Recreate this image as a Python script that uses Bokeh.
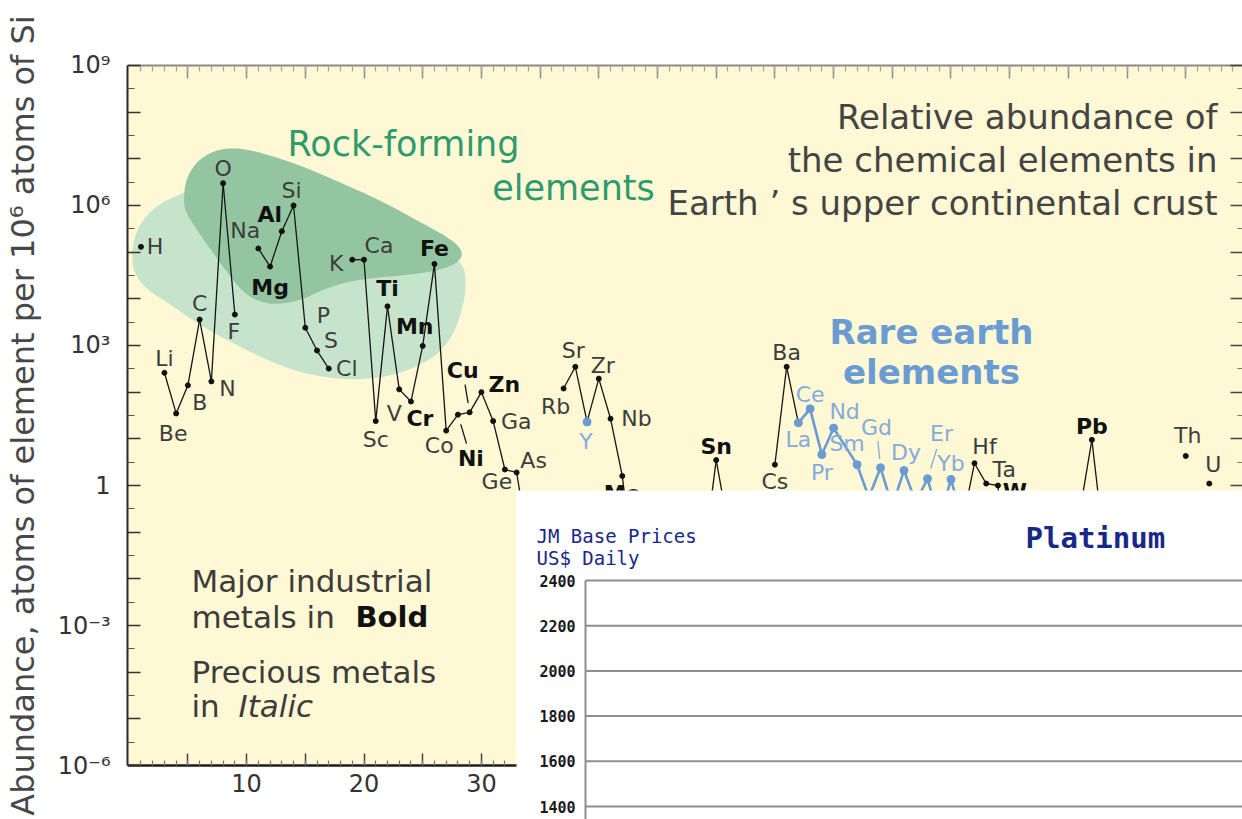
import math

from bokeh.plotting import figure
from bokeh.models import (ColumnDataSource, Range1d, LinearScale, LogAxis, LinearAxis,
                          FixedTicker, BoxAnnotation, Label)
from bokeh.core.properties import value
from bokeh.embed import file_html
from bokeh.resources import INLINE

# ---------------------------------------------------------------------------
# Element abundances in the upper continental crust (atoms per 10^6 atoms Si)
# ---------------------------------------------------------------------------
ELEMENTS = [
    "H",
    "Li", "Be", "B", "C", "N", "O", "F",
    "Na", "Mg", "Al", "Si", "P", "S", "Cl",
    "K", "Ca", "Sc", "Ti", "V", "Cr", "Mn", "Fe", "Co", "Ni", "Cu", "Zn", "Ga", "Ge", "As", "Se",
    "Rb", "Sr", "Y", "Zr", "Nb", "Mo", "Ru", "Rh", "Pd", "Ag", "Cd", "In", "Sn", "Sb", "Te",
    "Cs", "Ba", "La", "Ce", "Pr", "Nd", "Sm", "Eu", "Gd", "Tb", "Dy", "Ho", "Er", "Tm", "Yb", "Lu",
    "Hf", "Ta", "W", "Re", "Os", "Ir", "Pt", "Au", "Hg", "Tl", "Pb", "Bi",
    "Th", "U",
]
ATOMIC_NUMBER = [
    1,
    3, 4, 5, 6, 7, 8, 9,
    11, 12, 13, 14, 15, 16, 17,
    19, 20, 21, 22, 23, 24, 25, 26, 27, 28, 29, 30, 31, 32, 33, 34,
    37, 38, 39, 40, 41, 42, 44, 45, 46, 47, 48, 49, 50, 51, 52,
    55, 56, 57, 58, 59, 60, 62, 63, 64, 65, 66, 67, 68, 69, 70, 71,
    72, 73, 74, 75, 76, 77, 78, 79, 80, 81, 82, 83,
    90, 92,
]
ABUNDANCE = [
    1.3e5,
    260, 35, 140, 3600, 170, 3.0e6, 4600,
    1.2e5, 4.9e4, 2.8e5, 1.0e6, 2400, 780, 320,
    6.9e4, 6.9e4, 24, 6900, 115, 63, 980, 5.6e4, 15, 33, 37, 100, 24, 2.2, 1.9, 0.056,
    120, 350, 23, 195, 27, 1.6, 1.3e-4, 5e-5, 4e-4, 0.04, 0.08, 0.038, 3.5, 0.14, 5e-4,
    2.8, 350, 22, 44, 4.6, 17, 2.8, 0.56, 2.4, 0.36, 2.1, 0.44, 1.4, 0.18, 1.35, 0.17,
    3.0, 1.1, 1.0, 2e-4, 2.5e-5, 1e-5, 2.5e-4, 8e-4, 0.04, 0.3, 9.5, 0.063,
    4.3, 1.1,
]
# the connecting line breaks after these elements
CHAIN_ENDS = ["H", "F", "Cl", "Se", "Te", "Bi", "Th", "U"]

MAJOR_INDUSTRIAL = ["Mg", "Al", "Ti", "Cr", "Mn", "Fe", "Ni", "Cu", "Zn", "Mo", "Sn", "W", "Pb"]
PRECIOUS = ["Ru", "Rh", "Pd", "Ag", "Os", "Ir", "Pt", "Au"]
RARE_EARTH = ["Y", "La", "Ce", "Pr", "Nd", "Sm", "Eu", "Gd", "Tb", "Dy", "Ho", "Er", "Tm", "Yb", "Lu"]
LANTHANIDES = RARE_EARTH[1:]
# labels set apart from their point get a short leader line
LEADERS = ["Ni", "Cu", "Gd", "Er"]

# label placement, screen pixels relative to each point (y grows downward)
LABEL_DX = [
    14,
    0, -3, 12, 0, 16, 0, -1,
    -13, 0, -12, -2, 18, 14, 18,
    -16, 15, 0, 0, -5, 9, -8, 0, -7, 13, -7, 23, 23, -8, 17, 14,
    -8, -2, -1, 4, 26, 0, 0, 0, 0, 0, 0, -10, 0, 10, 0,
    0, 0, 0, 0, 0, 11, -10, 0, -4, 0, 2, 0, 14, 0, 0, 0,
    10, 18, 17, 0, 0, 0, 0, 0, 0, -10, 0, 10,
    2, 4,
]
LABEL_DY = [
    0,
    -14, 20, 17, -16, 7, -15, 17,
    -18, 21, -17, -15, -12, -10, 0,
    4, -14, 18, -18, 24, 17, -19, -15, 15, 44, -42, -8, 0, 12, -12, 14,
    18, -16, 20, -13, 0, 18, 18, 18, 18, 18, 18, 14, -14, 14, 18,
    17, -14, 17, -14, 18, -17, -21, 18, -40, 18, -18, 18, -45, 18, -16, 18,
    -17, -14, 6, 18, 18, 18, 18, 18, 18, 14, -13, 14,
    -20, -19,
]

# outlines of the rock-forming zones (atomic number, log10 abundance)
ROCK_CORE_Z = [4.63, 4.80, 5.65, 7.18, 9.05, 11.18, 14.59, 18.0, 21.41, 24.81, 27.36, 28.39,
               28.22, 26.94, 24.81, 22.26, 18.85, 16.29, 14.59, 12.03, 9.91, 8.20, 6.07, 4.80]
ROCK_CORE_LOG = [6.11, 6.54, 6.92, 7.18, 7.24, 7.14, 6.86, 6.49, 6.11, 5.64, 5.29, 5.04,
                 4.82, 4.65, 4.54, 4.48, 4.39, 4.18, 3.96, 3.86, 4.07, 4.61, 5.36, 5.85]
ROCK_HALO_Z = [4.63, 3.09, 1.64, 0.62, 0.20, 0.37, 1.39, 3.26, 6.07, 8.88, 11.78, 14.59, 17.40,
               20.30, 23.11, 25.92, 27.62, 28.47, 28.73, 28.39, 26.52, 14.59, 6.07]
ROCK_HALO_LOG = [6.26, 6.11, 5.85, 5.46, 5.04, 4.56, 4.22, 3.92, 3.43, 3.04, 2.68, 2.42, 2.29,
                 2.27, 2.40, 2.72, 3.21, 3.86, 4.39, 4.78, 5.04, 6.11, 6.54]

# axes
Y_DECADES = list(range(-6, 10))
Y_TICK_TEXT = {9: "10⁹", 6: "10⁶", 3: "10³", 0: "1", -3: "10⁻³", -6: "10⁻⁶"}
Y_TITLE = "Abundance, atoms of element per 10⁶ atoms of Si"
X_MAJOR = list(range(5, 95, 5))
X_MINOR = list(range(1, 95))
X_TICK_TEXT = {10: "10", 20: "20", 30: "30"}

# price panel
PT_TICKS = [1400, 1600, 1800, 2000, 2200, 2400]

# ---------------------------------------------------------------------------
# layout (page pixels); the frame runs past the axes so the vertical title
# is centred on the whole canvas height
# ---------------------------------------------------------------------------
W, H = 1242, 819
FRAME_LEFT, FRAME_TOP = 127, 11
X_START, X_END = -0.145, 94.83
LOG_LOW, LOG_HIGH = -7.157, 10.157
Y_MIN, Y_MAX = 1e-6, 1e9
PANEL_LEFT, PANEL_TOP = 516, 490
PT_AXIS_X = 585
PT_LOW, PT_HIGH = 1342.5, 4920.0

PX_PER_Z = (W - FRAME_LEFT) / (X_END - X_START)
PX_PER_DECADE = (H - FRAME_TOP) / (LOG_HIGH - LOG_LOW)


def z_at(px):
    return X_START + (px - FRAME_LEFT) / PX_PER_Z


def abundance_at(py):
    return 10 ** (LOG_HIGH - (py - FRAME_TOP) / PX_PER_DECADE)


def chaikin(xs, ys, rounds=3):
    for _ in range(rounds):
        nx, ny = [], []
        n = len(xs)
        for i in range(n):
            x0, y0, x1, y1 = xs[i], ys[i], xs[(i + 1) % n], ys[(i + 1) % n]
            nx += [0.75 * x0 + 0.25 * x1, 0.25 * x0 + 0.75 * x1]
            ny += [0.75 * y0 + 0.25 * y1, 0.25 * y0 + 0.75 * y1]
        xs, ys = nx, ny
    return xs, ys


YELLOW = "#fff8d4"
INK = "#3c3c3c"
BLUE = "#6b9bd3"
BLUE_TEXT = "#84abdd"
GREEN_TEXT = "#2e9a6e"
NAVY = "#17288a"
SANS = "DejaVu Sans"
MONO = "DejaVu Sans Mono"

p = figure(width=W, height=H, output_backend="svg", toolbar_location=None,
           x_range=Range1d(X_START, X_END), y_range=Range1d(10 ** LOG_LOW, 10 ** LOG_HIGH),
           y_axis_type="log", x_axis_location=None, y_axis_location=None,
           min_border_left=FRAME_LEFT, min_border_top=FRAME_TOP,
           min_border_right=0, min_border_bottom=0,
           background_fill_color="white", border_fill_color="white",
           outline_line_color=None)
p.grid.visible = False

p.extra_x_ranges = {"px": Range1d(FRAME_LEFT, W)}
p.extra_x_scales = {"px": LinearScale()}
# price range: 2400 sits at page y 580, 200 per 45.2 px
pt_per_px = 200 / 45.2
p.extra_y_ranges = {"px": Range1d(H, FRAME_TOP),
                    "pt": Range1d(2400 - (H - 580) * pt_per_px, 2400 + (580 - FRAME_TOP) * pt_per_px)}
p.extra_y_scales = {"px": LinearScale(), "pt": LinearScale()}
PT_LOW = p.extra_y_ranges["pt"].start

# chart area
p.add_layout(BoxAnnotation(bottom=Y_MIN, top=Y_MAX, fill_color=YELLOW, fill_alpha=1,
                           line_color=None, level="underlay"))

# rock-forming zones
hx, hy = chaikin(ROCK_HALO_Z, ROCK_HALO_LOG)
p.patch(hx, [10 ** v for v in hy], fill_color="#c6e4cb", line_color=None)
cx, cy = chaikin(ROCK_CORE_Z, ROCK_CORE_LOG)
p.patch(cx, [10 ** v for v in cy], fill_color="#93c6a0", line_color=None)

# connecting lines
seg = dict(x0=[], y0=[], x1=[], y1=[], color=[], width=[])
for i in range(len(ELEMENTS) - 1):
    if ELEMENTS[i] in CHAIN_ENDS:
        continue
    ree = ELEMENTS[i] in LANTHANIDES and ELEMENTS[i + 1] in LANTHANIDES
    seg["x0"].append(ATOMIC_NUMBER[i])
    seg["y0"].append(ABUNDANCE[i])
    seg["x1"].append(ATOMIC_NUMBER[i + 1])
    seg["y1"].append(ABUNDANCE[i + 1])
    seg["color"].append(BLUE if ree else "#151515")
    seg["width"].append(2.6 if ree else 1.3)

# leader lines run part of the way from a point towards its label
for el in LEADERS:
    i = ELEMENTS.index(el)
    lz, la = ATOMIC_NUMBER[i], math.log10(ABUNDANCE[i])
    f0, f1 = 0.22, 0.66
    seg["x0"].append(lz + f0 * LABEL_DX[i] / PX_PER_Z)
    seg["y0"].append(10 ** (la - f0 * LABEL_DY[i] / PX_PER_DECADE))
    seg["x1"].append(lz + f1 * LABEL_DX[i] / PX_PER_Z)
    seg["y1"].append(10 ** (la - f1 * LABEL_DY[i] / PX_PER_DECADE))
    seg["color"].append(BLUE_TEXT if el in RARE_EARTH else "#151515")
    seg["width"].append(1.3)

p.segment(x0="x0", y0="y0", x1="x1", y1="y1", line_color="color", line_width="width",
          source=ColumnDataSource(seg))

# points and element labels
styles, colors, sizes, mcolors = [], [], [], []
for el in ELEMENTS:
    if el in RARE_EARTH:
        colors.append(BLUE_TEXT)
        sizes.append(8)
        mcolors.append(BLUE)
    else:
        colors.append("#111111" if el in MAJOR_INDUSTRIAL else INK)
        sizes.append(5)
        mcolors.append("#111111")
    styles.append("bold" if el in MAJOR_INDUSTRIAL else ("italic" if el in PRECIOUS else "normal"))

pts = ColumnDataSource(dict(z=ATOMIC_NUMBER, a=ABUNDANCE, name=ELEMENTS, dx=LABEL_DX, dy=LABEL_DY,
                            style=styles, color=colors, size=sizes, mcolor=mcolors))
p.scatter("z", "a", size="size", fill_color="mcolor", line_color="mcolor", source=pts)
p.text("z", "a", text="name", x_offset="dx", y_offset="dy", text_font=value(SANS),
       text_font_size=value("22px"), text_font_style="style", text_color="color",
       text_align="center", text_baseline="middle", source=pts)

# axes of the abundance chart
panel_z = z_at(PANEL_LEFT)
panel_a = abundance_at(PANEL_TOP)
y_major = [10.0 ** k for k in Y_DECADES]
y_minor = [10.0 ** (k + 0.5) for k in Y_DECADES[:-1]]

left = LogAxis(ticker=FixedTicker(ticks=y_major, minor_ticks=y_minor), bounds=(Y_MIN, Y_MAX),
               major_label_overrides={10.0 ** k: Y_TICK_TEXT.get(k, "") for k in Y_DECADES},
               axis_label=Y_TITLE, axis_label_standoff=13,
               axis_label_text_font=SANS, axis_label_text_font_size="32px",
               axis_label_text_font_style="normal", axis_label_text_color="#474747",
               axis_line_color="#2a2a2a", axis_line_width=2,
               major_tick_in=13, major_tick_out=0, minor_tick_in=7, minor_tick_out=0,
               major_tick_line_color="#333333", major_tick_line_width=1.5,
               minor_tick_line_color="#555555", minor_tick_line_width=1.2,
               major_label_text_font=SANS, major_label_text_font_size="24px",
               major_label_text_color="#333333", major_label_standoff=17)
p.add_layout(left, "left")

r_major = [v for v in y_major if v >= panel_a]
r_minor = [v for v in y_minor if v >= panel_a]
right = LogAxis(ticker=FixedTicker(ticks=r_major, minor_ticks=r_minor), fixed_location=X_END,
                bounds=(panel_a, Y_MAX), axis_line_color=None,
                major_label_overrides={v: "" for v in r_major},
                major_tick_in=12, major_tick_out=0, minor_tick_in=5, minor_tick_out=0,
                major_tick_line_color="#444444", major_tick_line_width=1.5,
                minor_tick_line_color="#777777", minor_tick_line_width=1.2)
p.add_layout(right, "right")

b_major = [v for v in X_MAJOR if v <= panel_z]
b_minor = [v for v in X_MINOR if v <= panel_z]
bottom = LinearAxis(ticker=FixedTicker(ticks=b_major, minor_ticks=b_minor), fixed_location=Y_MIN,
                    bounds=(X_START, panel_z),
                    major_label_overrides={v: X_TICK_TEXT.get(v, "") for v in b_major},
                    axis_line_color="#1e1e1e", axis_line_width=2.5,
                    major_tick_in=12, major_tick_out=0, minor_tick_in=5, minor_tick_out=0,
                    major_tick_line_color="#444444", major_tick_line_width=1.5,
                    minor_tick_line_color="#777777", minor_tick_line_width=1.2,
                    major_label_text_font=SANS, major_label_text_font_size="24px",
                    major_label_text_color="#333333", major_label_standoff=8)
p.add_layout(bottom, "below")

top = LinearAxis(ticker=FixedTicker(ticks=X_MAJOR, minor_ticks=X_MINOR), fixed_location=Y_MAX,
                 major_label_overrides={v: "" for v in X_MAJOR},
                 axis_line_color="#8a8a8a", axis_line_width=2,
                 major_tick_in=13, major_tick_out=0, minor_tick_in=6, minor_tick_out=0,
                 major_tick_line_color="#8a8a8a", major_tick_line_width=1.5,
                 minor_tick_line_color="#a0a0a0", minor_tick_line_width=1.2)
p.add_layout(top, "above")


def note(text, x, y, size, color=INK, align="left", style="normal", font=SANS):
    p.add_layout(Label(x=x, y=y, x_range_name="px", y_range_name="px", text=text,
                       text_font=font, text_font_size=size, text_font_style=style,
                       text_color=color, text_align=align, text_baseline="middle"))


note("Rock-forming", 403, 143, "35px", color=GREEN_TEXT, align="center")
note("elements", 573, 187, "35px", color=GREEN_TEXT, align="center")

note("Relative abundance of", 1217, 116, "34px", color="#444444", align="right")
note("the chemical elements in", 1217, 159, "34px", color="#444444", align="right")
note("Earth ’ s upper continental crust", 1217, 202, "34px", color="#444444", align="right")

note("Rare earth", 931, 331, "34px", color=BLUE, align="center", style="bold")
note("elements", 931, 371, "34px", color=BLUE, align="center", style="bold")

note("Major industrial", 191, 580, "31px")
note("metals  in", 191, 616, "31px")
note("Bold", 355, 616, "29px", color="#111111", style="bold")
note("Precious metals", 191, 671, "31px")
note("in", 191, 705, "31px")
note("Italic", 238, 705, "31px", style="italic")

# ---------------------------------------------------------------------------
# platinum price panel
# ---------------------------------------------------------------------------
p.quad(left=PANEL_LEFT, right=W, top=PANEL_TOP, bottom=H, x_range_name="px", y_range_name="px",
       fill_color="white", line_color=None)
p.segment(x0=PT_AXIS_X, x1=W, y0=PT_TICKS, y1=PT_TICKS, x_range_name="px", y_range_name="pt",
          line_color="#8e8e8e", line_width=2)
pt_axis = LinearAxis(x_range_name="px", y_range_name="pt", fixed_location=PT_AXIS_X,
                     bounds=(PT_LOW, max(PT_TICKS)), ticker=FixedTicker(ticks=PT_TICKS, minor_ticks=[]),
                     axis_line_color="#8e8e8e", axis_line_width=2,
                     major_tick_in=0, major_tick_out=0, minor_tick_in=0, minor_tick_out=0,
                     major_label_text_font=MONO, major_label_text_font_style="bold",
                     major_label_text_font_size="15px", major_label_text_color="#1a1a1a",
                     major_label_standoff=10)
p.add_layout(pt_axis, "left")

note("JM Base Prices", 536, 535, "19px", color=NAVY, font=MONO)
note("US$ Daily", 536, 557, "19px", color=NAVY, font=MONO)
note("Platinum", 1025, 537, "29px", color=NAVY, font=MONO, style="bold")

open("out.html", "w").write(file_html(p, INLINE))
